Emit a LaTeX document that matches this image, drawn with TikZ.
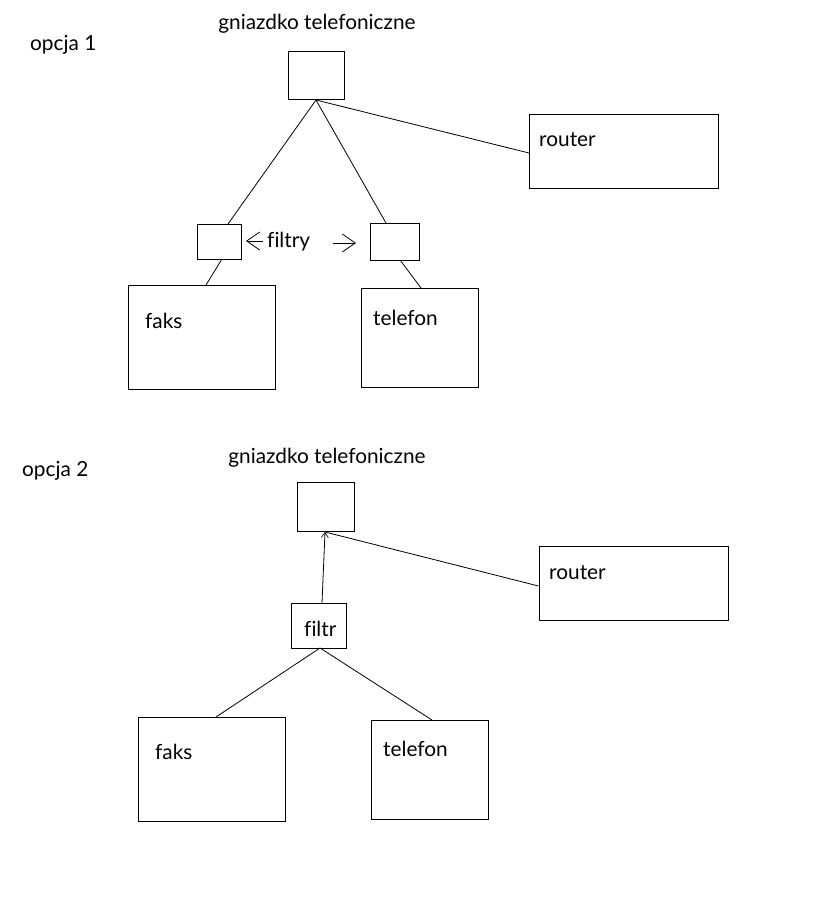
\documentclass[tikz,border=0pt]{standalone}
\usepackage{fontspec}
\setmainfont{Lato}[Ligatures=NoCommon]
\usetikzlibrary{arrows.meta}
\begin{document}
\begin{tikzpicture}[x=1pt,y=-1pt,
  box/.style={draw,line width=1pt},
  wire/.style={line width=0.8pt},
  lbl/.style={anchor=base west,inner sep=0pt,font=\fontsize{20.8}{24}\selectfont},
  clbl/.style={anchor=base,inner sep=0pt,font=\fontsize{20.8}{24}\selectfont},
  tip/.style={-{Straight Barb[length=13pt,width=18pt,line width=0.8pt]}}]
\useasboundingbox (0,0) rectangle (820,908);
% ---------- opcja 1
\node[lbl] (o1) at (30,50) {opcja 1};
\node[clbl] (g1) at (317,29) {gniazdko telefoniczne};
\draw[box] (288,51) rectangle (344,99);
\coordinate (s1) at (316,100);
\node[box,minimum width=189pt,minimum height=74pt,inner sep=0pt] (r1) at (623.5,151) {};
\node[lbl] (r1t) at (539,146) {router};
\node[box,minimum width=44pt,minimum height=35pt,inner sep=0pt] (fl) at (219,241.5) {};
\node[box,minimum width=49pt,minimum height=37pt,inner sep=0pt] (fr) at (394.5,241.5) {};
\node[box,minimum width=147pt,minimum height=104pt,inner sep=0pt] (fa1) at (201.5,337) {};
\node[lbl] (fa1t) at (145,328) {faks};
\node[box,minimum width=117pt,minimum height=99pt,inner sep=0pt] (te1) at (419.5,337.5) {};
\node[lbl] (te1t) at (373,325) {telefon};
\draw[wire] (s1) -- (228,224);
\draw[wire] (s1) -- (386,223);
\draw[wire] (s1) -- (529,153);
\draw[wire] (222,259) -- (206,285);
\draw[wire] (400,260) -- (421,288);
\node[lbl] (filtry) at (267,247) {filtry};
\coordinate (a1s) at (263,241);
\coordinate (a1e) at (246,241);
\draw[wire,tip] (a1s) -- (a1e);
\coordinate (a2s) at (333,243);
\coordinate (a2e) at (356,243);
\draw[wire,tip] (a2s) -- (a2e);
% ---------- opcja 2
\node[lbl] (o2) at (22,476) {opcja 2};
\node[clbl] (g2) at (327,463) {gniazdko telefoniczne};
\draw[box] (297,482) rectangle (354,531);
\coordinate (s2) at (325,532);
\node[box,minimum width=189pt,minimum height=74pt,inner sep=0pt] (r2) at (633.5,583) {};
\node[lbl] (r2t) at (549,579) {router};
\node[box,minimum width=55pt,minimum height=45pt,inner sep=0pt] (fi) at (318.5,625.5) {};
\node[lbl] (fit) at (304,636) {filtr};
\node[box,minimum width=147pt,minimum height=104pt,inner sep=0pt] (fa2) at (211.5,769) {};
\node[lbl] (fa2t) at (155,759) {faks};
\node[box,minimum width=117pt,minimum height=99pt,inner sep=0pt] (te2) at (429.5,769.5) {};
\node[lbl] (te2t) at (383,756) {telefon};
\draw[wire,-{Straight Barb[length=5pt,width=7pt,line width=0.6pt]}] (322,603) -- (s2);
\draw[wire] (r2.west |- 0,586) -- (s2);
\draw[wire] (320,648) -- (216,717);
\draw[wire] (320,648) -- (432,720);
\end{tikzpicture}
\end{document}
